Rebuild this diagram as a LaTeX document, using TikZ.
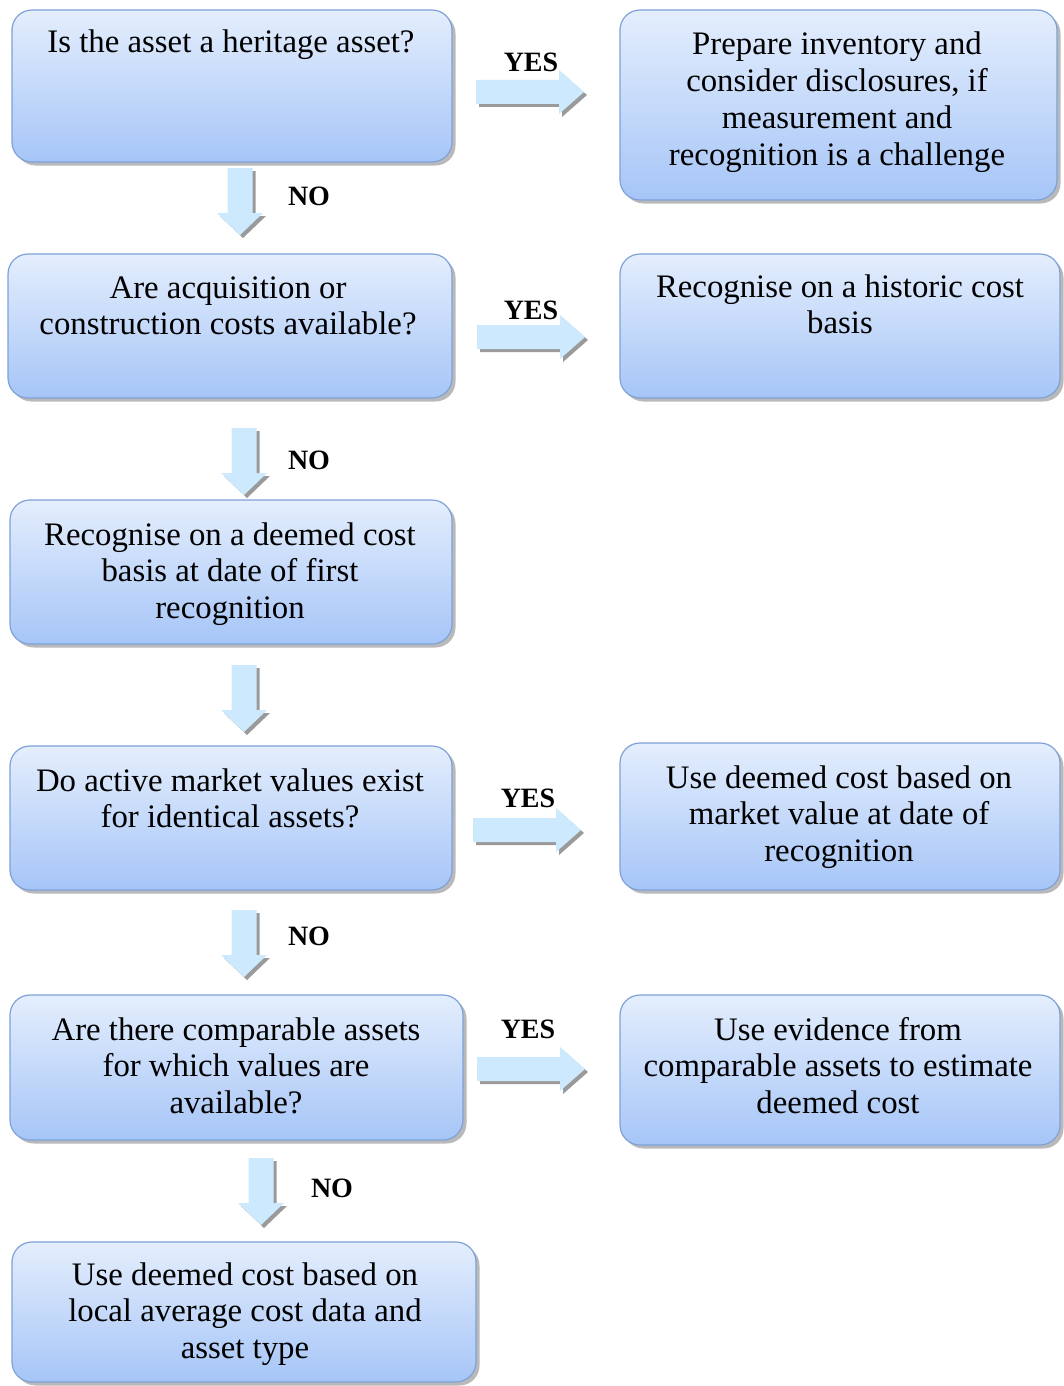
\documentclass[tikz,border=0pt]{standalone}
\usepackage{fontspec}
\setmainfont{Liberation Serif}
\usetikzlibrary{shadows}
\definecolor{boxtop}{HTML}{E4EEFD}
\definecolor{boxbot}{HTML}{A6C5F7}
\definecolor{boxline}{HTML}{7EA2D8}
\definecolor{arrfill}{HTML}{CDE9FE}
\definecolor{arrshadow}{HTML}{9A9A9A}
\tikzset{
  box/.style={draw=boxline, line width=1.2pt, rounded corners=20pt,
    top color=boxtop, bottom color=boxbot, inner sep=0pt,
    drop shadow={shadow xshift=3.5pt, shadow yshift=-3.5pt, fill=black!50, opacity=0.55}},
  txt/.style={font=\fontsize{32.8}{36.7}\selectfont, align=flush center, text width=450pt,
    inner sep=0pt, anchor=base},
  lab/.style={font=\fontsize{28}{30}\selectfont\bfseries, inner sep=0pt},
  rarr/.pic={
    \fill[arrshadow] (3,-9) -- (86,-9) -- (86,-19) -- (111,3) -- (86,25) -- (86,15) -- (3,15) -- cycle;
    \fill[arrfill] (0,-12) -- (83,-12) -- (83,-22) -- (108,0) -- (83,22) -- (83,12) -- (0,12) -- cycle;
  },
  darr/.pic={
    \fill[arrshadow] (-9.5,3) -- (15.5,3) -- (15.5,48) -- (26,48) -- (3,70) -- (-20,48) -- (-9.5,48) -- cycle;
    \fill[arrfill] (-12.5,0) -- (12.5,0) -- (12.5,45) -- (23,45) -- (0,67) -- (-23,45) -- (-12.5,45) -- cycle;
  }
}
\begin{document}
\begin{tikzpicture}[x=1pt,y=-1pt]
\useasboundingbox (0,0) rectangle (1064,1386);
% boxes
\node[box, minimum width=440pt, minimum height=152pt] (L1) at (232,86) {};
\node[box, minimum width=437pt, minimum height=190pt] (R1) at (838.5,105) {};
\node[box, minimum width=444pt, minimum height=144pt] (L2) at (230,326) {};
\node[box, minimum width=440pt, minimum height=144pt] (R2) at (840,326) {};
\node[box, minimum width=442pt, minimum height=144pt] (L3) at (231,572) {};
\node[box, minimum width=442pt, minimum height=144pt] (L4) at (231,818) {};
\node[box, minimum width=440pt, minimum height=147pt] (R4) at (840,816.5) {};
\node[box, minimum width=453pt, minimum height=145pt] (L5) at (236.5,1067.5) {};
\node[box, minimum width=440pt, minimum height=150pt] (R5) at (840,1070) {};
\node[box, minimum width=464pt, minimum height=140pt] (L6) at (244,1312) {};
% texts
\node[txt] (tL1) at (231,53) {Is the asset a heritage asset?};
\node[txt] (tR1) at (837,55) {Prepare inventory and\\consider disclosures, if\\measurement and\\recognition is a challenge};
\node[txt] (tL2) at (228,298) {Are acquisition or\\construction costs available?};
\node[txt] (tR2) at (840,297) {Recognise on a historic cost\\basis};
\node[txt] (tL3) at (230,545) {Recognise on a deemed cost\\basis at date of first\\recognition};
\node[txt] (tL4) at (230,791) {Do active market values exist\\for identical assets?};
\node[txt] (tR4) at (839,788) {Use deemed cost based on\\market value at date of\\recognition};
\node[txt] (tL5) at (236,1040) {Are there comparable assets\\for which values are\\available?};
\node[txt] (tR5) at (838,1040) {Use evidence from\\comparable assets to estimate\\deemed cost};
\node[txt] (tL6) at (245,1285) {Use deemed cost based on\\local average cost data and\\asset type};
% block arrows
\pic (a1) at (476,92) {rarr};
\pic (a2) at (477,337) {rarr};
\pic (a3) at (473,830) {rarr};
\pic (a4) at (477,1069) {rarr};
\pic (d1) at (240,168) {darr};
\pic (d2) at (244,428) {darr};
\pic (d3) at (244,665) {darr};
\pic (d4) at (244,910) {darr};
\pic (d5) at (261,1158) {darr};
% labels
\node[lab] (y1) at (531,62) {YES};
\node[lab] (y2) at (531,310) {YES};
\node[lab] (y3) at (528,798) {YES};
\node[lab] (y4) at (528,1029) {YES};
\node[lab] (n1) at (309,196) {NO};
\node[lab] (n2) at (309,460) {NO};
\node[lab] (n3) at (309,936) {NO};
\node[lab] (n4) at (332,1188) {NO};
\end{tikzpicture}
\end{document}
